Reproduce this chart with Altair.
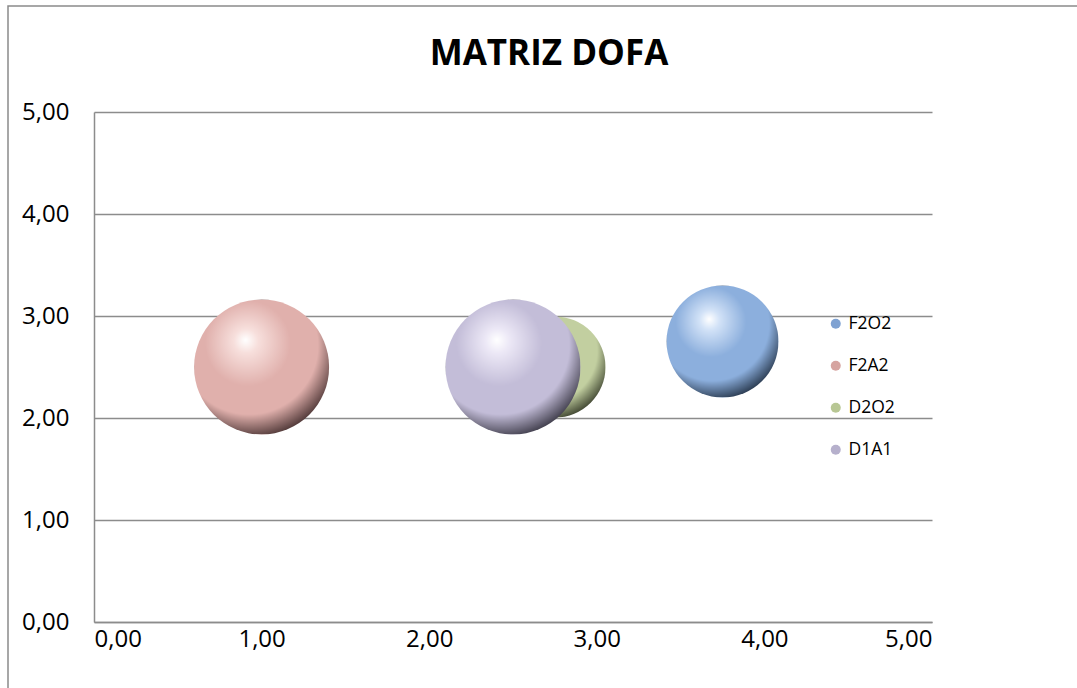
import altair as alt
import pandas as pd

# ---- data ----
series = ["F2O2", "F2A2", "D2O2", "D1A1"]
x_vals = [3.75, 1.0, 2.75, 2.5]
y_vals = [2.75, 2.5, 2.5, 2.5]
sizes = [2.75, 4.0, 2.25, 4.0]
tick_vals = [0, 1, 2, 3, 4, 5]

base_colors = ["#8cafdd", "#e0b0ac", "#c2cfa0", "#c3bdd8"]
light_colors = ["#d2e2f7", "#f7dfdc", "#e8efd4", "#ece8f6"]
dark_colors = ["#1c2a3c", "#3a2626", "#2e3322", "#2c2a36"]
legend_colors = ["#7fa2d2", "#d6a4a0", "#b8c794", "#b6b0cc"]

df = pd.DataFrame({"serie": series, "x": x_vals, "y": y_vals, "tam": sizes})

W, H = 838, 510
label_expr = "replace(format(datum.value, '.2f'), '.', ',')"

x_enc = alt.X("x:Q", scale=alt.Scale(domain=[0, 5], nice=False),
              axis=alt.Axis(values=tick_vals, labelExpr=label_expr, title=None,
                            ticks=False, tickSize=0, labelPadding=5, grid=False,
                            domainColor="#8c8c8c", domainWidth=1.5))
y_enc = alt.Y("y:Q", scale=alt.Scale(domain=[0, 5], nice=False),
              axis=alt.Axis(values=tick_vals, labelExpr=label_expr, title=None,
                            ticks=False, tickSize=0, labelPadding=25, grid=True,
                            gridColor="#8c8c8c", gridWidth=1.5,
                            domainColor="#8c8c8c", domainWidth=1.5))
# Vega circle: diameter = sqrt(size)
size_enc = alt.Size("tam:Q", scale=alt.Scale(domain=[0, 4], range=[0, 18225]), legend=None)

# outer frame (decoration)
frame = alt.Chart(alt.Data(values=[{}])).mark_rect(
    filled=False, stroke="#8a8a8a", strokeWidth=1.5, clip=False
).encode(x=alt.value(8 - 94), y=alt.value(6 - 112), x2=alt.value(3000), y2=alt.value(3000))

layers = [frame]
for i, s in enumerate(series):
    grad = alt.Gradient(
        gradient="radial",
        x1=0.38, y1=0.3, r1=0.0,
        x2=0.42, y2=0.36, r2=0.75,
        stops=[
            alt.GradientStop(color="#ffffff", offset=0.0),
            alt.GradientStop(color=light_colors[i], offset=0.12),
            alt.GradientStop(color=base_colors[i], offset=0.42),
            alt.GradientStop(color=base_colors[i], offset=0.68),
            alt.GradientStop(color=dark_colors[i], offset=0.93),
            alt.GradientStop(color=dark_colors[i], offset=1.0),
        ],
    )
    layer = alt.Chart(df).transform_filter(alt.datum.serie == s).mark_circle(
        fill=grad, opacity=1, strokeWidth=0
    ).encode(x=x_enc, y=y_enc, size=size_enc)
    layers.append(layer)

legend_layer = alt.Chart(df).mark_circle(opacity=0, size=10).encode(
    x=x_enc, y=y_enc,
    fill=alt.Fill("serie:N", sort=series,
                  scale=alt.Scale(domain=series, range=legend_colors),
                  legend=alt.Legend(orient="none", legendX=733, legendY=203,
                                    title=None, symbolType="circle", symbolSize=100,
                                    symbolOpacity=1, symbolStrokeWidth=0,
                                    labelFont="Open Sans", labelFontSize=17.5,
                                    labelColor="#000000", labelOffset=4,
                                    rowPadding=23, padding=0))
)
layers.append(legend_layer)

chart = alt.layer(*layers).properties(
    width=W, height=H,
    title=alt.TitleParams("MATRIZ DOFA", font="Open Sans", fontSize=35, fontWeight="bold",
                          color="#000000", anchor="middle", frame="group", dx=36,
                          offset=-95, baseline="alphabetic"),
    autosize=alt.AutoSizeParams(type="none"),
    padding={"left": 94, "top": 112, "right": 1077 - 94 - W, "bottom": 688 - 112 - H},
    background="#ffffff",
).configure_view(strokeWidth=0).configure_axis(
    labelFont="Open Sans", labelFontSize=24, labelColor="#000000"
)

chart.save("out.html", embed_options={"renderer": "svg", "actions": False})
